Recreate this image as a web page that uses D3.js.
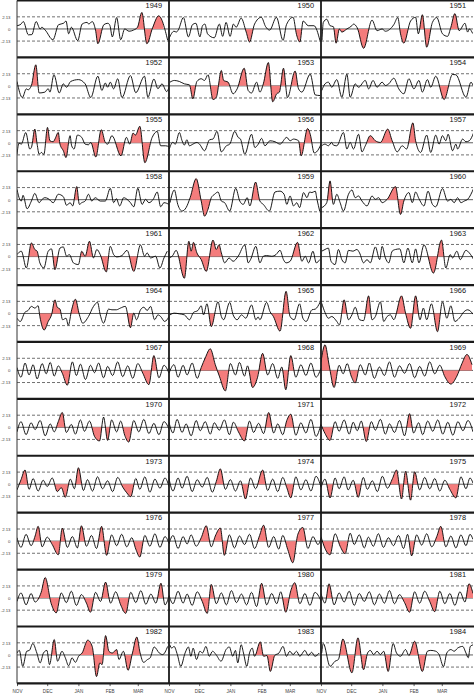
<!DOCTYPE html>
<html>
<head>
<meta charset="utf-8">
<script src="https://cdn.jsdelivr.net/npm/d3@7"></script>
<style>
  body { margin: 0; background: #fff; }
  svg { display: block; font-family: 'Liberation Sans', Arial, sans-serif; }
</style>
</head>
<body>
<div id="wrapper"></div>
<script>
const years = [1949, 1950, 1951, 1952, 1953, 1954, 1955, 1956, 1957, 1958, 1959, 1960,
  1961, 1962, 1963, 1964, 1965, 1966, 1967, 1968, 1969, 1970, 1971, 1972,
  1973, 1974, 1975, 1976, 1977, 1978, 1979, 1980, 1981, 1982, 1983, 1984]
const threshold = 2.13
const yTickValues = [2.13, 0, -2.13]
const yTickLabels = ['2.13', '0', '-2.13']
const monthStarts = [0, 30, 61, 92, 120]
const monthLabels = ['NOV', 'DEC', 'JAN', 'FEB', 'MAR']
const dayCount = 151

// [day since Nov 1, anomaly] at the turning points of each winter's curve
const anomalies = [
  // 1949
  [[0,0.57],[4,0.86],[6.3,1.3],[11.3,-1.03],[14.7,-1.0],[19,1.3],[23,0],[24.7,0.3],[28,-0.2],[35.7,-1.9],[41.3,0.75],[46.3,1.0],[48.7,1.4],[51.3,-0.85],[54,0.3],[60.3,-2.05],[64.7,0.86],[69.7,1.15],[71.3,0.86],[74.7,1.3],[78,-0.2],[80.3,-2.6],[86.3,0.75],[90.3,1.0],[92.3,0.6],[94.7,-1.4],[99,2.0],[103,-1.9],[107,0],[111.3,-0.4],[115.7,-0.2],[119.7,0.3],[124,2.9],[129,-2.6],[134.7,0.2],[140.7,2.3],[149.7,-2.0]],
  // 1950
  [[0,-1.7],[5,-0.4],[7.3,-0.55],[9.3,-0.15],[14.3,2.0],[19.3,-1.4],[23.3,0.75],[26.7,1.0],[30.7,-1.4],[33.3,0.57],[35.7,0.86],[38.3,-0.86],[45,-1.55],[50,0.86],[53.3,-1.3],[56.7,1.15],[60.7,-1.3],[64,0.86],[66.7,0.3],[71.7,1.9],[76.7,-0.55],[80,-2.3],[85,0.86],[91.7,2.05],[96,0.4],[100,-0.2],[106.7,2.05],[113.3,-2.0],[116.7,0.75],[123.3,2.05],[126.7,-1.0],[130,-2.3],[133.3,1.4],[138.3,0.57],[144,0.57],[150,-2.05]],
  // 1951
  [[1,-2.0],[2.3,1.15],[5.7,1.7],[9,0.57],[12.3,0.4],[15,-2.5],[18.3,0],[20.7,-0.55],[25.7,0],[30.7,0.57],[32.3,0.86],[36,0.2],[42.3,-3.4],[50.7,1.55],[55.7,-0.3],[60.7,0],[64,-0.4],[72.3,0.75],[76.3,2.0],[79,-0.86],[82.3,-2.5],[89,1.4],[94,2.05],[96.7,-0.86],[100.7,2.5],[105,-3.2],[110.7,1.15],[115,2.0],[120.7,-0.86],[125.7,-1.3],[129,0.3],[133,2.7],[137.3,-0.3],[143,1.0],[145.7,-0.55],[147.3,0],[150.7,-0.8]],
  // 1952
  [[0,0.77],[5.3,-2.05],[9.3,-0.53],[11,-0.7],[14.3,0.06],[18.7,3.7],[22,-1.25],[27.7,-1.1],[31,-0.5],[32.7,-1.1],[36.7,1.95],[42,-1.25],[46,0.35],[49.3,-0.24],[53.3,0.77],[61,1.1],[67.7,0.35],[73.3,-2.05],[80.3,1.7],[84.3,-0.8],[87.7,0.5],[90,-0.24],[92.7,0.65],[96,-0.53],[100,1.25],[104.3,-2.05],[112.7,1.8],[118,-1.2],[126.7,1.7],[130,-2.0],[136,1.2],[140,-0.5],[144,0.35],[148.7,-1.0],[151,-0.3]],
  // 1953
  [[1,0.65],[5.3,0.95],[10.3,0.77],[15.3,0.35],[20.3,0.18],[23.7,-2.3],[27.7,0.77],[32,1.25],[35.3,0.95],[38.7,1.95],[43.7,-2.4],[47,-2.0],[52,2.7],[54.3,0.95],[58.7,0.65],[63.7,-1.4],[67.7,-0.53],[74.7,3.1],[78.7,-0.83],[82,-1.25],[87,0.65],[90.3,-1.1],[93.7,0.35],[98.7,4.1],[103,-2.8],[107,-1.4],[109.7,-1.1],[113.7,3.1],[117.7,-2.05],[125.3,2.6],[128.7,-0.53],[132,-1.1],[140.3,2.05],[145.3,-1.6],[150,-1.7]],
  // 1954
  [[0.7,-0.83],[4,0.35],[7.3,0.65],[10.7,-0.24],[15.7,1.1],[20.7,-2.0],[25.7,2.05],[29,-2.0],[34,0.35],[37.3,-0.24],[44,0.95],[47.3,-0.53],[51.7,0.95],[55.7,-0.24],[60.7,0.65],[64,0.06],[67.3,0.35],[72.3,1.35],[77.3,-0.53],[82.3,-1.4],[87.3,1.25],[92.3,-0.53],[97.3,0.95],[100.7,-1.1],[105.7,1.1],[109,-0.24],[114,1.7],[122.3,-2.4],[130.7,2.0],[134,1.95],[144,-2.0],[149,0.65],[151,0.06]],
  // 1955
  [[0,-2.0],[2,-0.06],[4.3,-0.24],[8.7,1.8],[12.7,-1.1],[14.3,-0.83],[17.7,2.4],[20,-0.24],[22,-2.0],[24.3,-1.7],[26.7,-2.05],[30.3,2.7],[32.7,0.35],[36,0.18],[37.7,0.65],[41,1.8],[42.7,-0.24],[46,-1.4],[48.7,-2.6],[52.7,1.25],[54.3,-0.53],[56.7,-1.1],[60,1.35],[64.3,0.95],[67.7,-0.24],[71,-0.35],[73.3,0.06],[78.3,-2.5],[83.7,2.3],[87.7,0.06],[90,-0.24],[94.3,1.25],[103.3,-2.3],[108.7,0.95],[112,-0.24],[115.3,1.7],[117.7,1.35],[122,2.9],[127,-3.5],[134.3,0.95],[139.3,2.0],[142.7,-0.53],[147.7,-0.53],[151,-0.7]],
  // 1956
  [[0.3,-1.1],[3.7,0.06],[6.3,-0.24],[10.3,1.8],[13,0.35],[15.3,-0.41],[17.7,0.53],[20.3,-0.53],[23.7,-0.24],[27.7,0.06],[30.3,-0.24],[35.3,-1.4],[40.3,0.53],[43.7,0.65],[47.7,2.0],[52,-1.6],[57,-0.53],[60.3,-0.24],[65.3,2.0],[68.7,0.95],[71,0.65],[75.3,-2.0],[82,1.5],[85.3,-0.83],[88.7,-0.24],[92,0.77],[95.3,-0.53],[100.3,0.35],[105.3,0.18],[110.3,-0.24],[117,0.95],[120.3,0.35],[123.7,0.65],[128.7,0.35],[131.3,-2.3],[137.7,2.5],[140.3,1.5],[144.3,-1.8],[148.7,-1.1],[151,-0.24]],
  // 1957
  [[0.7,-0.53],[4,-0.24],[7.3,-0.53],[10.7,0.06],[12.3,-0.41],[15.7,-0.53],[22.3,1.8],[25.7,-1.1],[29,0.06],[32.3,-1.1],[37.3,1.5],[40.7,-1.6],[44,-0.53],[49,1.25],[54,0.35],[59,0.06],[66.3,2.4],[70.7,0.35],[75.7,-1.6],[80.7,-0.53],[85,-1.1],[91.3,3.5],[94,0.35],[99,-1.7],[105,1.35],[109,-1.7],[114,1.35],[117.3,-0.24],[120.7,1.25],[124,0.35],[126.3,1.5],[130.7,-1.4],[134,-0.24],[135.7,-1.1],[140.7,0.65],[144,0.18],[147.3,0.35],[151.7,1.8]],
  // 1958
  [[0,1.8],[2.7,0.06],[4.3,-0.24],[6,0.77],[10,-1.6],[14.3,-0.24],[17.7,1.1],[22,-0.53],[24.3,-0.06],[27.7,0.35],[31,0.18],[36,-0.53],[41,0.95],[46,0.53],[49.3,-1.0],[52.7,-0.53],[55.3,-1.1],[59.3,2.3],[62,-0.83],[64.3,-0.53],[67.7,-0.24],[71,0.95],[74.3,-0.24],[77.7,0.35],[82.7,-0.24],[87.7,-0.24],[92.7,2.0],[96,-0.53],[98.7,0.18],[102,-1.1],[106,0.35],[109.3,0.06],[112.7,-0.53],[116,-1.25],[120,2.0],[124.3,-0.83],[127.7,0.06],[131,-0.53],[135.3,0.06],[139.3,1.35],[142.7,-1.25],[146,-0.53],[151,-0.83]],
  // 1959
  [[1,-0.53],[5.3,1.7],[8.7,-0.83],[13,-2.0],[17,-1.4],[21,0.35],[27,3.7],[32,-0.24],[35.3,-2.9],[38.7,-1.7],[42,0.35],[45.3,0.95],[48.7,1.35],[52,-0.24],[55.3,-0.53],[60.3,-2.0],[66.3,2.0],[70.3,-0.24],[73.7,-0.83],[77.7,0.35],[80.3,-1.1],[86,3.1],[90.3,-0.24],[93.7,-0.83],[99.7,-2.0],[105.3,1.35],[110.3,1.5],[114.3,0.95],[117,-0.83],[120.3,0.65],[123.7,-1.1],[127,-0.53],[129.7,-1.4],[133.7,1.25],[137,0.35],[139.7,1.35],[142,1.25],[145.3,1.5],[147,0.06],[149.7,-2.0]],
  // 1960
  [[0.7,-1.4],[5.7,-0.53],[9,3.3],[12.3,-0.83],[15.7,0.95],[19,-0.53],[22.3,-2.0],[27.3,0.95],[30.7,1.7],[34,0.35],[37.3,0.65],[40.7,-0.24],[45.7,-1.1],[50.7,0.65],[54,0.06],[57.3,0.35],[60.7,-0.53],[65.7,0.06],[74,2.3],[79,-2.6],[82.3,-0.24],[87.3,1.25],[90.7,-0.53],[94,1.35],[97.3,0.18],[102.3,-1.1],[106.3,1.5],[110.7,-0.83],[114,-1.25],[120.7,1.95],[125.7,-0.24],[129,0.06],[132.3,-0.53],[135.7,0.35],[139,-0.53],[142.3,-0.24],[145.7,0.06],[151.7,2.0]],
  // 1961
  [[0,0.35],[4.3,0.95],[9.3,-2.0],[14.3,2.4],[17.7,1.25],[20,0.95],[22.7,-1.1],[26.7,-2.0],[31,0.95],[34.3,1.35],[37.7,-2.3],[42.7,1.5],[46,1.7],[49.3,0.06],[52,0.35],[56,-1.1],[61,-1.4],[64.3,0.95],[67.7,0.06],[72,2.7],[76,-0.24],[79.3,1.25],[82.7,0.35],[88.7,-2.7],[92.7,1.8],[96,0.35],[99.3,-0.06],[104.3,0.18],[109.3,1.1],[116,-2.6],[122.7,2.05],[126.7,0.06],[129.3,0.65],[132.7,-0.24],[137.7,0.06],[142,-2.0],[146,-0.24],[149.3,0.95]],
  // 1962
  [[0.3,-0.24],[3.7,0.18],[7,1.1],[15.3,-3.8],[19.7,2.7],[22,0.95],[24.3,2.5],[27.7,0.65],[32,-0.53],[37,-2.6],[43.7,2.9],[47,1.25],[49.7,2.1],[52,0.65],[55.3,-1.1],[59.7,-0.24],[63.7,-0.83],[68.7,0.06],[75.3,2.05],[78.7,-1.1],[81,-0.53],[86.3,1.8],[90.3,-1.1],[93.7,0.06],[97,0.18],[102,0.06],[106.3,0.35],[110.3,1.1],[113.7,-0.53],[116.3,-1.1],[120.3,-0.83],[127.7,2.5],[132,-0.83],[135.3,0.06],[138.7,-1.1],[143,0.95],[146.3,-1.1],[149.7,-0.53]],
  // 1963
  [[0.7,0.95],[4,1.25],[7.3,1.5],[10,-0.83],[14,-1.4],[17.3,1.25],[20.7,-0.53],[24,-1.1],[27.3,1.1],[31.7,0.95],[35.7,1.25],[38.3,0.65],[42.3,-1.1],[45.7,-0.53],[49,-1.1],[54,1.7],[58.3,-0.53],[60.7,1.8],[64,-0.24],[67.3,-1.1],[70.7,0.95],[74,1.25],[78.3,1.35],[82.3,-1.1],[86.3,1.5],[90.7,-1.1],[94,1.35],[97.3,-1.1],[102.3,2.05],[111.7,-2.9],[119.7,2.9],[124,-2.0],[128.3,0.35],[130.7,-0.24],[135,0.95],[138.3,-0.53],[144,1.1],[147.3,0.65],[151.7,-0.53]],
  // 1964
  [[0,-0.83],[3.3,-1.4],[7.7,0.18],[11,0.53],[14.3,1.25],[17.7,0.95],[21,1.35],[22.7,-0.53],[27,-2.9],[31,-1.4],[34.3,-0.24],[37.7,2.4],[40,1.1],[42.7,0.77],[45.3,-1.1],[48.7,-0.83],[51,-2.05],[54.3,0.65],[58,2.5],[62,-0.24],[65.3,-1.7],[71,-0.53],[76,1.25],[80,1.95],[82.7,-0.24],[86,-1.7],[91,0.77],[94.3,0.65],[98.7,0.65],[102.7,0.95],[107.7,1.25],[112.7,-2.5],[116,0.06],[118.7,-1.1],[122.7,0.65],[126,1.1],[129.3,0.53],[132.7,1.25],[136.7,-1.1],[140,-0.24],[142.7,-0.53],[146.7,-1.4],[151,-0.53]],
  // 1965
  [[1,-0.24],[5.3,0.06],[10.3,-0.06],[15.3,-0.24],[20.3,-1.1],[24.3,0.18],[28.7,0.53],[32,1.35],[34.3,-0.24],[37.7,1.7],[42,-2.3],[48.7,2.05],[52,-0.53],[54.3,-1.1],[60.3,1.95],[63.7,-0.24],[67.7,-1.1],[72,-0.24],[76.3,-0.83],[82,1.5],[86.3,-1.1],[88.5,-0.6],[90.3,-1.1],[97,1.95],[100.3,0.35],[103.7,-0.53],[110.3,-3.1],[116.3,3.9],[120.3,-0.53],[124.3,-1.1],[129.7,1.7],[133,-0.83],[136.3,-1.4],[142,0.65],[145.3,0.77],[150.3,2.05]],
  // 1966
  [[0.7,1.8],[4,0.18],[7.3,-0.83],[10.7,-0.53],[15.7,-1.4],[18.3,-2.0],[23,2.4],[27.3,-1.1],[30.7,-0.24],[34,1.1],[38.3,-1.1],[42.3,-1.25],[47.3,3.1],[50.7,-1.1],[54,-0.53],[59,2.05],[62.3,-1.4],[65.7,-0.53],[69,-0.24],[72.3,-1.1],[80,3.1],[84,0.06],[89,-2.6],[94,3.1],[98.3,-1.1],[101.7,0.95],[105,-1.1],[109.7,1.7],[115.7,-3.2],[120.7,2.05],[125,-0.83],[129,1.35],[133,-1.4],[137.3,-0.83],[142.3,0.35],[145.7,0.65],[151.7,-0.24]],
  // 1967
  [[0,0.5],[4,-1.2],[8,1.3],[12,-0.8],[16,1.0],[20,-1.5],[25,1.2],[29,-0.6],[33,1.4],[37,-1.0],[41,0.8],[45,-0.5],[50,-2.6],[55,1.5],[59,-0.9],[63,1.1],[68,-1.6],[73,0.9],[77,-0.4],[81,1.3],[86,-1.3],[90,0.7],[95,-0.9],[100,1.5],[105,-1.1],[110,0.8],[115,-1.4],[120,1.2],[125,-0.5],[131,-2.5],[136,2.6],[141,-1.3],[146,0.9],[151,-0.5]],
  // 1968
  [[0,-0.5],[5,1.0],[9,-1.2],[14,0.9],[18,-0.8],[23,1.3],[28,-1.4],[32,0.5],[36,2.2],[41,3.8],[46,1.0],[50,-1.0],[56,-3.6],[61,1.2],[66,-0.8],[70,1.4],[75,-1.0],[78,0.8],[83,-3.0],[88,-1.2],[93,3.0],[98,-0.8],[103,1.2],[108,-1.4],[112,0.6],[116,-3.4],[121,2.6],[126,-1.2],[131,1.0],[136,-0.9],[141,1.3],[146,-1.2],[151,0.4]],
  // 1969
  [[0,1.5],[4,4.5],[8,1.0],[13,-3.0],[18,0.9],[22,-0.6],[26,1.2],[30,-1.0],[34,-2.2],[39,1.0],[44,-0.8],[48,1.3],[53,-1.4],[58,0.6],[63,-0.9],[68,1.5],[73,-1.2],[78,0.8],[83,-0.5],[88,1.2],[93,-1.3],[98,0.7],[103,-1.0],[108,1.5],[113,-0.6],[118,0.9],[123,-1.1],[129,-2.4],[135,-1.0],[140,1.2],[145,2.8],[150,1.0]],
  // 1970
  [[0,-0.8],[4,1.0],[9,-1.3],[14,0.8],[18,-0.4],[23,1.2],[28,-1.5],[33,0.6],[37,-0.8],[41,1.0],[45,2.6],[49,-0.9],[54,0.5],[58,-1.2],[63,1.3],[67,-0.7],[72,1.1],[77,-1.6],[82,-2.4],[86,1.8],[90,-2.3],[94,1.3],[99,-0.8],[103,1.1],[107,-1.4],[111,-2.6],[116,1.2],[121,-0.8],[126,1.4],[131,-1.1],[136,0.7],[141,-1.3],[146,1.0],[151,-0.3]],
  // 1971
  [[0,0.9],[4,-1.0],[8,1.4],[13,-0.9],[17,0.6],[22,-1.5],[27,1.2],[31,-0.6],[36,1.0],[41,-1.2],[45,0.8],[50,-0.5],[55,1.3],[60,-1.3],[64,0.9],[69,-0.8],[75,-2.4],[80,1.1],[84,-0.9],[89,0.7],[94,-1.1],[99,2.6],[104,-1.0],[108,0.6],[113,-1.3],[117,1.2],[121,2.3],[126,-1.4],[131,0.8],[136,-1.0],[141,1.4],[146,-1.6],[151,0.6]],
  // 1972
  [[0,0.5],[4,-1.1],[9,-2.3],[14,1.0],[18,-0.7],[23,1.3],[28,-1.2],[32,0.9],[36,-0.6],[40,1.1],[45,-2.5],[50,1.0],[54,-0.5],[59,1.4],[64,-1.2],[68,0.6],[73,-0.9],[78,1.2],[83,-1.5],[88,2.4],[92,-1.0],[97,0.8],[101,-1.3],[106,1.1],[111,-0.7],[116,1.3],[121,-1.2],[126,0.9],[131,-1.4],[136,1.0],[141,-0.6],[146,1.2],[151,-0.8]],
  // 1973
  [[0,-1.0],[4,0.8],[8,2.5],[12,-0.9],[16,1.0],[21,-1.2],[26,0.7],[30,-0.4],[35,1.1],[40,-1.3],[44,-0.6],[48,-2.3],[53,0.9],[57,-0.8],[61,2.9],[66,-1.1],[70,0.8],[75,-1.2],[80,1.3],[85,-0.8],[90,0.6],[95,-1.3],[100,1.2],[105,-0.5],[109,-1.5],[113,-2.2],[118,1.0],[122,-0.9],[127,1.3],[132,-1.4],[137,0.9],[142,-0.7],[147,1.1],[151,-0.4]],
  // 1974
  [[0,1.0],[4,-1.2],[9,1.1],[13,-0.7],[18,1.4],[23,-1.3],[28,0.8],[33,-0.5],[38,1.2],[43,-1.4],[47,0.5],[51,2.7],[56,-0.9],[61,0.8],[66,-1.2],[71,0.6],[76,-2.6],[81,1.1],[86,-0.8],[93,2.5],[98,-1.1],[103,0.9],[108,-1.3],[113,1.2],[117,-0.6],[121,-2.4],[126,1.3],[131,-1.0],[136,0.8],[141,-1.2],[146,1.4],[151,-0.5]],
  // 1975
  [[0,-0.6],[4,0.9],[9,-2.4],[14,1.1],[18,-0.8],[23,1.3],[27,-1.0],[32,0.7],[37,-2.3],[42,1.2],[46,-0.9],[51,0.6],[56,-1.3],[61,1.4],[66,-0.7],[71,1.0],[75,2.5],[80,-2.6],[84,2.3],[89,-2.8],[93,2.2],[98,-1.0],[103,1.2],[108,-0.8],[113,1.0],[118,-1.2],[123,0.7],[128,-0.9],[134,-2.4],[139,1.3],[144,-0.8],[148,1.1],[151,0.2]],
  // 1976
  [[0,0.6],[4,-1.1],[9,1.2],[14,-0.8],[18,0.9],[21,2.6],[25,-1.0],[30,0.7],[35,-0.6],[41,-2.4],[45,2.3],[50,-1.1],[55,0.8],[60,-1.2],[64,2.7],[69,-0.9],[74,1.0],[79,-1.3],[84,2.6],[89,-2.5],[94,1.1],[99,-0.8],[104,1.2],[109,-1.0],[114,0.6],[118,-1.4],[122,-2.8],[127,1.0],[132,-0.9],[137,1.3],[142,-1.1],[147,0.8],[151,-0.4]],
  // 1977
  [[0,-0.5],[4,1.0],[9,-1.3],[14,0.8],[18,-0.5],[22,1.1],[27,-0.9],[32,0.6],[37,2.7],[42,-1.0],[46,0.9],[51,2.3],[55,-2.5],[60,1.1],[65,-1.2],[70,0.9],[75,-0.6],[80,1.2],[85,-1.3],[90,1.0],[94,2.8],[99,-1.1],[104,0.8],[109,-1.4],[113,1.0],[118,-1.5],[123,-3.8],[128,1.2],[133,2.4],[138,-1.3],[143,0.8],[148,-0.6],[151,0.5]],
  // 1978
  [[0,0.8],[4,-1.3],[9,-2.4],[14,1.3],[19,-0.9],[24,-2.2],[29,1.4],[33,-0.6],[38,1.1],[43,-1.2],[47,0.7],[52,-0.9],[57,1.3],[62,-1.1],[67,0.6],[72,-0.8],[77,1.0],[82,-1.3],[86,1.2],[90,-2.6],[95,1.1],[100,-0.7],[105,1.3],[110,-1.0],[115,0.8],[119,2.6],[124,-1.0],[129,0.9],[134,-1.2],[139,1.1],[144,-0.8],[148,1.2],[151,0.3]],
  // 1979
  [[0,-0.6],[4,0.9],[9,-1.2],[14,0.8],[18,-0.7],[24,1.0],[28,3.6],[34,-1.0],[39,-2.6],[44,0.9],[49,-0.8],[54,1.2],[59,-1.3],[64,0.6],[69,-0.9],[73,-2.5],[78,1.0],[83,-0.6],[88,2.8],[93,-0.9],[98,1.1],[103,-1.2],[108,-2.7],[113,1.0],[118,-0.8],[123,1.3],[128,-1.1],[133,0.7],[138,-0.9],[143,2.6],[147,-1.2],[151,0.4]],
  // 1980
  [[0,0.5],[4,-1.0],[9,1.2],[14,-0.9],[18,0.7],[23,-1.3],[28,1.1],[33,-0.6],[38,-2.7],[42,2.4],[47,-1.0],[52,0.9],[57,-1.2],[62,1.3],[67,-0.8],[72,0.7],[77,-1.2],[82,1.0],[87,-1.5],[92,2.6],[97,-1.2],[102,0.8],[107,-1.0],[111,1.1],[116,-2.5],[121,1.3],[125,2.7],[130,-1.0],[135,0.8],[140,-1.3],[145,1.0],[151,-0.5]],
  // 1981
  [[0,0.8],[4,-0.9],[8,2.5],[13,-1.2],[18,0.9],[23,-0.7],[28,1.2],[33,-1.3],[38,0.8],[43,-0.6],[48,1.1],[53,-1.2],[58,0.7],[63,-0.9],[68,1.3],[73,-1.0],[78,0.6],[83,-0.8],[88,-2.5],[93,1.1],[98,-0.9],[103,1.2],[108,-0.6],[113,-2.4],[118,1.2],[123,-1.0],[128,0.8],[133,-1.3],[138,1.1],[143,-0.7],[147,2.5],[151,0.8]],
  // 1982
  [[0,0.35],[2.3,0.8],[5.7,-2.0],[9.7,0.65],[12.3,0.8],[15.7,2.0],[19.7,0.35],[23,-1.4],[26.3,0.35],[29.7,0.8],[32.3,-1.7],[37,2.7],[40.3,-1.1],[44.7,0.65],[48,-0.5],[51.3,-1.9],[54.7,-0.5],[58,-1.3],[61.3,-0.2],[64.7,0.35],[70.3,2.6],[74.7,1.5],[79,-3.8],[82.3,-1.4],[84.5,-1.7],[88,3.4],[91.3,0.65],[94.7,0.35],[99,0.95],[101.3,-0.8],[105.7,0.65],[110.3,-2.7],[114.7,0.35],[119,3.15],[122.3,0.35],[125.7,-1.3],[129.7,-0.8],[132.3,-0.5],[136.3,1.4],[141.3,0.35],[144.7,0.06],[149.7,1.5]],
  // 1983
  [[0.7,1.8],[2.7,1.2],[5,1.5],[8.3,0.06],[11.7,-2.0],[16,0.35],[19.3,1.4],[21.7,-0.23],[24,1.2],[27.3,-0.8],[30.7,0.65],[33.3,0.35],[36.7,1.5],[40,-0.23],[43.3,0.65],[46.7,0.06],[51.7,-1.1],[56.7,0.95],[60,1.4],[63.3,-0.23],[66,0.8],[68.3,-1.4],[71.7,1.8],[74,0.35],[77.3,-2.0],[80,0.35],[82.7,1.2],[85,-0.23],[90.7,2.3],[94,-0.23],[97.3,-0.1],[100.7,-2.9],[105,-0.1],[109.3,0.35],[113.3,1.5],[116.7,-0.23],[120,0.65],[123.3,0.06],[126.7,0.65],[130,-0.23],[135,0.8],[138.3,-0.1],[141.7,0.47],[145,-0.23],[149.3,0.35]],
  // 1984
  [[0.7,0.35],[2.3,2.0],[9,-2.0],[14,-1.1],[17.3,-0.8],[21.7,2.8],[30.7,-3.15],[36.7,3.0],[42.3,-2.6],[46.3,0.35],[49,0.8],[52.3,0.06],[55.7,0.65],[59,0.06],[62.3,0.65],[66.7,-2.9],[71.7,2.0],[75,0.35],[79,-0.23],[84,0.95],[87.3,-0.1],[93,2.4],[100.7,-2.9],[105.7,0.65],[109,0.8],[114,0.65],[117.3,0.06],[121.7,-2.05],[125,0.35],[129,0.95],[132.3,0.65],[135.7,1.2],[140.7,1.5],[144,0.35],[146.3,-0.5],[148.3,1.5],[151.7,1.8]]
]

function drawPanels() {
  const dimensions = {
    width: 474,
    height: 695,
    margin: { top: 0.5, left: 17, right: 1, bottom: 11.6 },
    cols: 3,
    rows: 12,
  }
  dimensions.panelWidth =
    (dimensions.width - dimensions.margin.left - dimensions.margin.right) / dimensions.cols
  dimensions.panelHeight =
    (dimensions.height - dimensions.margin.top - dimensions.margin.bottom) / dimensions.rows

  const xScale = d3.scaleLinear().domain([0, dayCount]).range([0, dimensions.panelWidth])
  const yScale = d3.scaleLinear().domain([-5, 5]).range([dimensions.panelHeight, 0])

  const lineGenerator = d3
    .line()
    .x((d) => xScale(d[0]))
    .y((d) => yScale(d[1]))
    .curve(d3.curveMonotoneX)
  const areaGenerator = d3
    .area()
    .x((d) => xScale(d[0]))
    .y0(yScale(0))
    .y1((d) => yScale(d[1]))
    .curve(d3.curveMonotoneX)

  const wrapper = d3
    .select('#wrapper')
    .append('svg')
    .attr('width', dimensions.width)
    .attr('height', dimensions.height)

  const defs = wrapper.append('defs')

  years.forEach((year, i) => {
    const col = i % dimensions.cols
    const row = Math.floor(i / dimensions.cols)
    const series = anomalies[i]

    const bounds = wrapper
      .append('g')
      .attr('class', 'panel')
      .attr(
        'transform',
        `translate(${dimensions.margin.left + col * dimensions.panelWidth}, ${
          dimensions.margin.top + row * dimensions.panelHeight
        })`
      )

    // panel clip
    defs
      .append('clipPath')
      .attr('id', `panel-${year}`)
      .append('rect')
      .attr('width', dimensions.panelWidth)
      .attr('height', dimensions.panelHeight)

    // clip for the shaded events: segments between zero crossings that pass the threshold
    const eventClip = defs.append('clipPath').attr('id', `events-${year}`)
    eventIntervals(series).forEach(([x0, x1]) => {
      eventClip
        .append('rect')
        .attr('x', xScale(x0))
        .attr('width', Math.max(0, xScale(x1) - xScale(x0)))
        .attr('y', 0)
        .attr('height', dimensions.panelHeight)
    })

    // reference lines
    bounds
      .selectAll('.ref')
      .data([threshold, -threshold])
      .join('line')
      .attr('class', 'ref')
      .attr('x1', 0)
      .attr('x2', dimensions.panelWidth)
      .attr('y1', (d) => yScale(d))
      .attr('y2', (d) => yScale(d))
      .attr('stroke', '#333')
      .attr('stroke-width', 0.7)
      .attr('stroke-dasharray', '3,2')

    bounds
      .append('line')
      .attr('x1', 0)
      .attr('x2', dimensions.panelWidth)
      .attr('y1', yScale(0))
      .attr('y2', yScale(0))
      .attr('stroke', '#333')
      .attr('stroke-width', 0.8)

    const inner = bounds.append('g').attr('clip-path', `url(#panel-${year})`)

    inner
      .append('g')
      .attr('clip-path', `url(#events-${year})`)
      .append('path')
      .attr('d', areaGenerator(series))
      .attr('fill', '#f47c7c')

    inner
      .append('path')
      .attr('d', lineGenerator(series))
      .attr('fill', 'none')
      .attr('stroke', '#000')
      .attr('stroke-width', 0.9)
      .attr('stroke-linejoin', 'round')

    bounds
      .append('text')
      .attr('x', dimensions.panelWidth - 7)
      .attr('y', 7.8)
      .attr('text-anchor', 'end')
      .attr('font-size', '7.4px')
      .attr('fill', '#111')
      .text(year)

    // y labels on the first column
    if (col === 0) {
      const yAxisGenerator = d3
        .axisLeft(yScale)
        .tickValues(yTickValues)
        .tickFormat((d, k) => yTickLabels[k])
        .tickSize(0)
        .tickPadding(6.5)
      const yAxis = bounds.append('g').call(yAxisGenerator)
      yAxis.select('.domain').remove()
      yAxis.selectAll('text').attr('font-size', '4.3px').attr('fill', '#444').attr('font-family', null)
    }

    // month axis on the bottom row
    if (row === dimensions.rows - 1) {
      const xAxisGenerator = d3
        .axisBottom(xScale)
        .tickValues(monthStarts)
        .tickFormat((d, k) => monthLabels[k])
        .tickSize(2.7)
        .tickPadding(3.5)
      const xAxis = bounds
        .append('g')
        .attr('transform', `translate(0, ${dimensions.panelHeight})`)
        .call(xAxisGenerator)
      xAxis.select('.domain').remove()
      xAxis.selectAll('line').attr('stroke', '#333').attr('stroke-width', 0.8)
      xAxis.selectAll('text').attr('font-size', '4.6px').attr('fill', '#444').attr('font-family', null)
    }
  })

  // frame lines
  const frame = wrapper.append('g').attr('class', 'frame')
  const bottomY = dimensions.margin.top + dimensions.rows * dimensions.panelHeight
  frame
    .selectAll('.hline')
    .data(d3.range(dimensions.rows + 1))
    .join('line')
    .attr('x1', dimensions.margin.left)
    .attr('x2', dimensions.width)
    .attr('y1', (r) => dimensions.margin.top + r * dimensions.panelHeight)
    .attr('y2', (r) => dimensions.margin.top + r * dimensions.panelHeight)
    .attr('stroke', '#1a1a1a')
    .attr('stroke-width', 2.2)
  frame
    .selectAll('.vline')
    .data([1, 2])
    .join('line')
    .attr('x1', (c) => dimensions.margin.left + c * dimensions.panelWidth)
    .attr('x2', (c) => dimensions.margin.left + c * dimensions.panelWidth)
    .attr('y1', dimensions.margin.top)
    .attr('y2', bottomY)
    .attr('stroke', '#1a1a1a')
    .attr('stroke-width', 1.8)
  frame
    .append('line')
    .attr('x1', dimensions.margin.left)
    .attr('x2', dimensions.margin.left)
    .attr('y1', dimensions.margin.top)
    .attr('y2', bottomY)
    .attr('stroke', '#333')
    .attr('stroke-width', 1)
}

// split the series at zero crossings, keep the parts whose extreme passes the threshold
function eventIntervals(points) {
  const out = []
  let start = points[0][0]
  let sign = Math.sign(points[0][1])
  let peak = Math.abs(points[0][1])
  for (let k = 1; k < points.length; k++) {
    const [x0, v0] = points[k - 1]
    const [x1, v1] = points[k]
    if (v1 !== 0 && Math.sign(v1) !== sign) {
      const xc = x0 + ((x1 - x0) * v0) / (v0 - v1)
      if (peak > threshold) out.push([start, xc])
      start = xc
      sign = Math.sign(v1)
      peak = 0
    }
    peak = Math.max(peak, Math.abs(v1))
  }
  if (peak > threshold) out.push([start, points[points.length - 1][0] + 1])
  return out
}

drawPanels()
</script>
</body>
</html>
